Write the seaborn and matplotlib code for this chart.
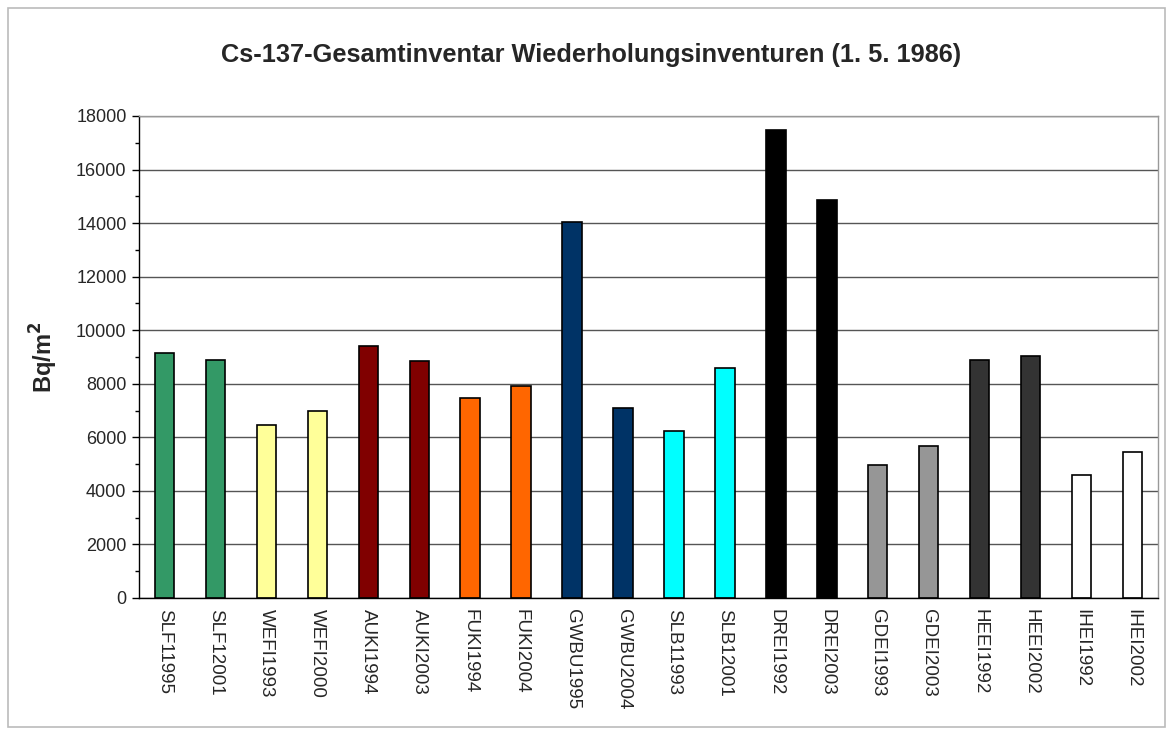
import seaborn as sns
import matplotlib.pyplot as plt
from matplotlib.patches import Rectangle
from matplotlib.ticker import MultipleLocator
import pandas as pd

# Sites / repeat inventories
sites = ["SLF11995", "SLF12001", "WEFI1993", "WEFI2000", "AUKI1994", "AUKI2003",
         "FUKI1994", "FUKI2004", "GWBU1995", "GWBU2004", "SLB11993", "SLB12001",
         "DREI1992", "DREI2003", "GDEI1993", "GDEI2003", "HEEI1992", "HEEI2002",
         "IHEI1992", "IHEI2002"]
# Cs-137 total inventory, Bq/m2 (decay corrected to 1.5.1986)
inventory = [9157, 8884, 6450, 6995, 9418, 8847,
             7478, 7903, 14030, 7093, 6222, 8571,
             17463, 14851, 4951, 5672, 8893, 9042,
             4602, 5460]
colors = ["#339966", "#339966", "#FFFF99", "#FFFF99", "#800000", "#800000",
          "#FF6600", "#FF6600", "#003366", "#003366", "#00FFFF", "#00FFFF",
          "#000000", "#000000", "#969696", "#969696", "#333333", "#333333",
          "#FFFFFF", "#FFFFFF"]

df = pd.DataFrame({"site": sites, "bq": inventory})

sns.set_style("white")
plt.rcParams["font.family"] = ["Liberation Sans", "DejaVu Sans"]

fig = plt.figure(figsize=(11.73, 7.35), dpi=100)
ax = fig.add_axes([139 / 1173, 1 - 598 / 735, (1158 - 139) / 1173, (598 - 116) / 735])

sns.barplot(data=df, x="site", y="bq", hue="site", palette=colors, legend=False,
            saturation=1, width=0.38, edgecolor="black", linewidth=1.2, ax=ax)

ax.set_ylim(0, 18000)
ax.set_xlim(-0.5, len(sites) - 0.5)
ax.yaxis.set_major_locator(MultipleLocator(2000))
ax.yaxis.set_minor_locator(MultipleLocator(1000))
ax.set_axisbelow(True)
ax.grid(axis="y", which="major", color="#555555", linewidth=1)
ax.grid(axis="x", visible=False)

# category separators as ticks
ax.set_xticks(range(len(sites)))
ax.set_xticklabels(sites, rotation=270, fontsize=13.5)
ax.set_xticks([i - 0.5 for i in range(len(sites) + 1)], minor=True)
ax.tick_params(axis="x", which="major", length=0, pad=8)
ax.tick_params(axis="x", which="minor", length=5, width=1, color="black", direction="out")
ax.tick_params(axis="y", which="major", length=5, width=1, color="black",
               direction="out", labelsize=13, left=True, pad=4)
ax.tick_params(axis="y", which="minor", length=3, width=1, color="black",
               direction="out", left=True)

for side in ["left", "bottom"]:
    ax.spines[side].set_color("black")
    ax.spines[side].set_linewidth(1)
for side in ["top", "right"]:
    ax.spines[side].set_visible(True)
    ax.spines[side].set_color("#999999")
    ax.spines[side].set_linewidth(1)

ax.set_xlabel("")
ax.set_ylabel("Bq/m$^\\mathbf{2}$", fontsize=17, fontweight="bold")
ax.yaxis.set_label_coords(-(139 - 60) / (1158 - 139), 0.5)

fig.suptitle("Cs-137-Gesamtinventar Wiederholungsinventuren (1. 5. 1986)",
             x=591 / 1173, y=1 - 55 / 735, va="center",
             fontsize=18.3, fontweight="bold")

# outer chart border
fig.patches.append(Rectangle((8 / 1173, 1 - 727 / 735), 1157 / 1173, 719 / 735,
                             transform=fig.transFigure, fill=False,
                             edgecolor="#BBBBBB", linewidth=1.2))

fig.savefig("out.png", dpi=100)
